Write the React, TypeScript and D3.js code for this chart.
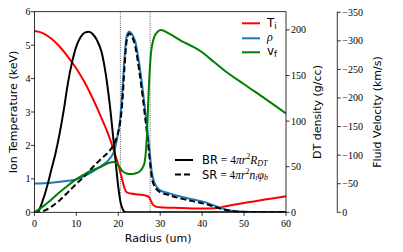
import * as d3 from 'd3';

// radius ticks and axis ticks
const xTicks = [0, 10, 20, 30, 40, 50, 60];
const tempTicks = [0, 1, 2, 3, 4, 5, 6];
const densTicks = [0, 50, 100, 150, 200];
const velTicks = [0, -50, -100, -150, -200, -250, -300, -350];
const shellEdges = [20.5, 27.6];

// ion temperature (keV)
const tiR = [0, 2, 4, 6, 8, 10, 12, 14, 16, 18, 19, 20, 21, 21.5, 22, 23, 25, 26.5, 27.3, 27.8, 28.3, 29, 30, 35, 40, 43, 46, 50, 55, 60];
const tiV = [5.42, 5.36, 5.2, 4.96, 4.65, 4.3, 3.88, 3.38, 2.82, 2.2, 1.82, 1.42, 0.95, 0.72, 0.6, 0.56, 0.53, 0.5, 0.46, 0.34, 0.22, 0.17, 0.15, 0.13, 0.11, 0.12, 0.19, 0.28, 0.38, 0.48];

// DT density (g/cc)
const rhoR = [0, 4, 8, 10, 12, 14, 16, 18, 19, 20, 20.5, 21, 21.5, 22, 22.6, 23.2, 24, 25, 26, 27, 27.5, 28, 28.5, 29, 30, 32, 35, 38, 40, 42, 44, 46, 48, 50, 55, 60];
const rhoV = [31.5, 32.5, 34.5, 36, 40, 45, 51, 59, 67, 88, 105, 135, 170, 193, 198, 196, 188, 163, 128, 88, 66, 44, 34, 29, 24, 21, 17, 14, 12, 9, 5.5, 2.5, 1.2, 0.6, 0.2, 0];

// burn rate BR (density axis units)
const brR = [0, 1, 2, 3, 4, 5, 6, 7, 8, 9, 10, 11, 12, 13, 14, 15, 16, 17, 18, 19, 20, 20.5, 21, 21.5, 22, 30, 60];
const brV = [0, 2, 13, 28, 46, 64, 86, 112, 142, 165, 182, 192, 197, 198, 195, 188, 176, 152, 117, 73, 28, 12, 4, 0.5, 0, 0, 0];

// source rate SR
const srR = [0, 1.5, 2, 4, 6, 8, 10, 12, 14, 16, 18, 19, 20, 20.5, 21, 21.5, 22, 22.6, 23.2, 24, 25, 26, 27, 27.5, 28, 28.5, 29, 30, 32, 35, 38, 40, 42, 44, 46, 48, 50, 55, 60];
const srV = [0, 0, 1, 6, 13, 22, 31, 40, 50, 59, 68, 75, 88, 100, 122, 160, 188, 196, 193, 183, 155, 120, 80, 58, 38, 30, 26, 22, 19, 15, 12, 10, 7.5, 4.5, 2.2, 1, 0.4, 0.1, 0];

// fluid velocity (km/s)
const vfR = [0, 2, 4, 6, 8, 10, 12, 14, 16, 18, 19, 20, 21, 22, 23, 24, 25, 25.8, 26.3, 26.8, 27.3, 27.8, 28.6, 29.4, 30.2, 32, 35, 38, 40, 42, 45, 50, 55, 60];
const vfV = [0, -10, -22, -35, -47, -58, -67, -74, -80, -87, -88, -82, -72, -68, -67, -68, -71, -78, -88, -130, -220, -278, -307, -316, -319, -313, -300, -289, -280, -268, -250, -224, -199, -173];

const W = 403;
const H = 252;
const L = 34.4, R = 286, T = 11.7, B = 212.3;
const velAxisX = 337.3;

const x = d3.scaleLinear().domain([0, 60]).range([L, R]);
const yT = d3.scaleLinear().domain([0, 6]).range([B, T]);
const yD = d3.scaleLinear().domain([0, 220]).range([B, T]);
const yV = d3.scaleLinear().domain([0, -351]).range([B, T]);

const tickFont = "'Liberation Serif', 'DejaVu Serif', serif";
const sansFont = "'DejaVu Sans', sans-serif";
const fmt = d3.format('d');

function path(rs: number[], vs: number[], y: d3.ScaleLinear<number, number>) {
  const line = d3
    .line<number>()
    .x((_, i) => x(rs[i]))
    .y(v => y(v))
    .curve(d3.curveMonotoneX);
  return line(vs) || '';
}

export default function App() {
  return (
    <svg width={W} height={H} style={{ position: 'absolute', left: 0, top: 0, background: '#fff' }}>
      <defs>
        <clipPath id="plot">
          <rect x={L} y={T - 2} width={R - L} height={B - T + 2} />
        </clipPath>
      </defs>

      {/* vertical dotted markers */}
      {shellEdges.map(r => (
        <line key={r} x1={x(r)} x2={x(r)} y1={T} y2={B} stroke="#000" strokeWidth={0.8} strokeDasharray="0.8,1.4" />
      ))}

      <g clipPath="url(#plot)" fill="none" strokeWidth={2}>
        <path d={path(tiR, tiV, yT)} stroke="#ff0000" />
        <path d={path(rhoR, rhoV, yD)} stroke="#1f77b4" />
        <path d={path(brR, brV, yD)} stroke="#000" />
        <path d={path(srR, srV, yD)} stroke="#000" strokeDasharray="6,3" />
        <path d={path(vfR, vfV, yV)} stroke="#008000" />
      </g>

      {/* frame */}
      <rect x={L} y={T} width={R - L} height={B - T} fill="none" stroke="#000" strokeWidth={0.8} />

      {/* bottom axis */}
      {xTicks.map(t => (
        <g key={'x' + t}>
          <line x1={x(t)} x2={x(t)} y1={B} y2={B + 3.5} stroke="#000" strokeWidth={0.8} />
          <text x={x(t)} y={B + 11.5} textAnchor="middle" dominantBaseline="central" fontFamily={tickFont} fontSize={10}>
            {fmt(t)}
          </text>
        </g>
      ))}
      <text x={(L + R) / 2 - 2} y={238} textAnchor="middle" dominantBaseline="central" fontFamily={sansFont} fontSize={11}>
        Radius (um)
      </text>

      {/* left axis */}
      {tempTicks.map(t => (
        <g key={'t' + t}>
          <line x1={L - 3.5} x2={L} y1={yT(t)} y2={yT(t)} stroke="#000" strokeWidth={0.8} />
          <text x={L - 4} y={yT(t)} textAnchor="end" dominantBaseline="central" fontFamily={tickFont} fontSize={10}>
            {fmt(t)}
          </text>
        </g>
      ))}
      <text transform={`translate(13,${(T + B) / 2}) rotate(-90)`} textAnchor="middle" dominantBaseline="central" fontFamily={sansFont} fontSize={11}>
        Ion Temperature (keV)
      </text>

      {/* density axis */}
      {densTicks.map(t => (
        <g key={'d' + t}>
          <line x1={R} x2={R + 3.5} y1={yD(t)} y2={yD(t)} stroke="#000" strokeWidth={0.8} />
          <text x={R + 5} y={yD(t)} textAnchor="start" dominantBaseline="central" fontFamily={tickFont} fontSize={10}>
            {fmt(t)}
          </text>
        </g>
      ))}
      <text transform={`translate(317,${(T + B) / 2}) rotate(-90)`} textAnchor="middle" dominantBaseline="central" fontFamily={sansFont} fontSize={11}>
        DT density (g/cc)
      </text>

      {/* velocity axis */}
      <line x1={velAxisX} x2={velAxisX} y1={T} y2={B} stroke="#000" strokeWidth={0.8} />
      {velTicks.map(t => (
        <g key={'v' + t}>
          <line x1={velAxisX} x2={velAxisX + 3.5} y1={yV(t)} y2={yV(t)} stroke="#000" strokeWidth={0.8} />
          <text x={velAxisX + 5} y={yV(t)} textAnchor="start" dominantBaseline="central" fontFamily={tickFont} fontSize={10}>
            {d3.format('d')(t)}
          </text>
        </g>
      ))}
      <text transform={`translate(377,${(T + B) / 2}) rotate(-90)`} textAnchor="middle" dominantBaseline="central" fontFamily={sansFont} fontSize={11}>
        Fluid Velocity (km/s)
      </text>

      {/* legend: profiles */}
      <g fontSize={12}>
        <line x1={242} x2={260} y1={23.3} y2={23.3} stroke="#ff0000" strokeWidth={2} />
        <text x={267} y={23.3} dominantBaseline="central" fontFamily={sansFont}>
          T<tspan fontSize={8.5} dy={3}>i</tspan>
        </text>
        <line x1={242} x2={260} y1={38.3} y2={38.3} stroke="#1f77b4" strokeWidth={2} />
        <text x={267} y={37} dominantBaseline="central" fontFamily={tickFont} fontStyle="italic">
          ρ
        </text>
        <line x1={242} x2={260} y1={52.3} y2={52.3} stroke="#008000" strokeWidth={2} />
        <text x={267} y={50.5} dominantBaseline="central" fontFamily={sansFont}>
          v<tspan fontSize={8.5} dy={3}>f</tspan>
        </text>
      </g>

      {/* legend: rates */}
      <g fontSize={11.5}>
        <line x1={175} x2={193} y1={160} y2={160} stroke="#000" strokeWidth={2} />
        <text x={202} y={160} dominantBaseline="central">
          <tspan fontFamily={sansFont}>BR</tspan>
          <tspan fontFamily={tickFont}> = 4</tspan>
          <tspan fontFamily={tickFont} fontStyle="italic">πr</tspan>
          <tspan fontFamily={tickFont} fontSize={8} dy={-4}>2</tspan>
          <tspan fontFamily={tickFont} fontStyle="italic" dy={4}>R</tspan>
          <tspan fontFamily={tickFont} fontStyle="italic" fontSize={8} dy={2.5}>DT</tspan>
        </text>
        <line x1={175} x2={193} y1={174.5} y2={174.5} stroke="#000" strokeWidth={2} strokeDasharray="6,3" />
        <text x={202} y={174.5} dominantBaseline="central">
          <tspan fontFamily={sansFont}>SR</tspan>
          <tspan fontFamily={tickFont}> = 4</tspan>
          <tspan fontFamily={tickFont} fontStyle="italic">πr</tspan>
          <tspan fontFamily={tickFont} fontSize={8} dy={-4}>2</tspan>
          <tspan fontFamily={tickFont} fontStyle="italic" dy={4}>n</tspan>
          <tspan fontFamily={tickFont} fontStyle="italic" fontSize={8} dy={2.5}>i</tspan>
          <tspan fontFamily={tickFont} fontStyle="italic" dy={-2.5}>φ</tspan>
          <tspan fontFamily={tickFont} fontStyle="italic" fontSize={8} dy={2.5}>b</tspan>
        </text>
      </g>
    </svg>
  );
}
